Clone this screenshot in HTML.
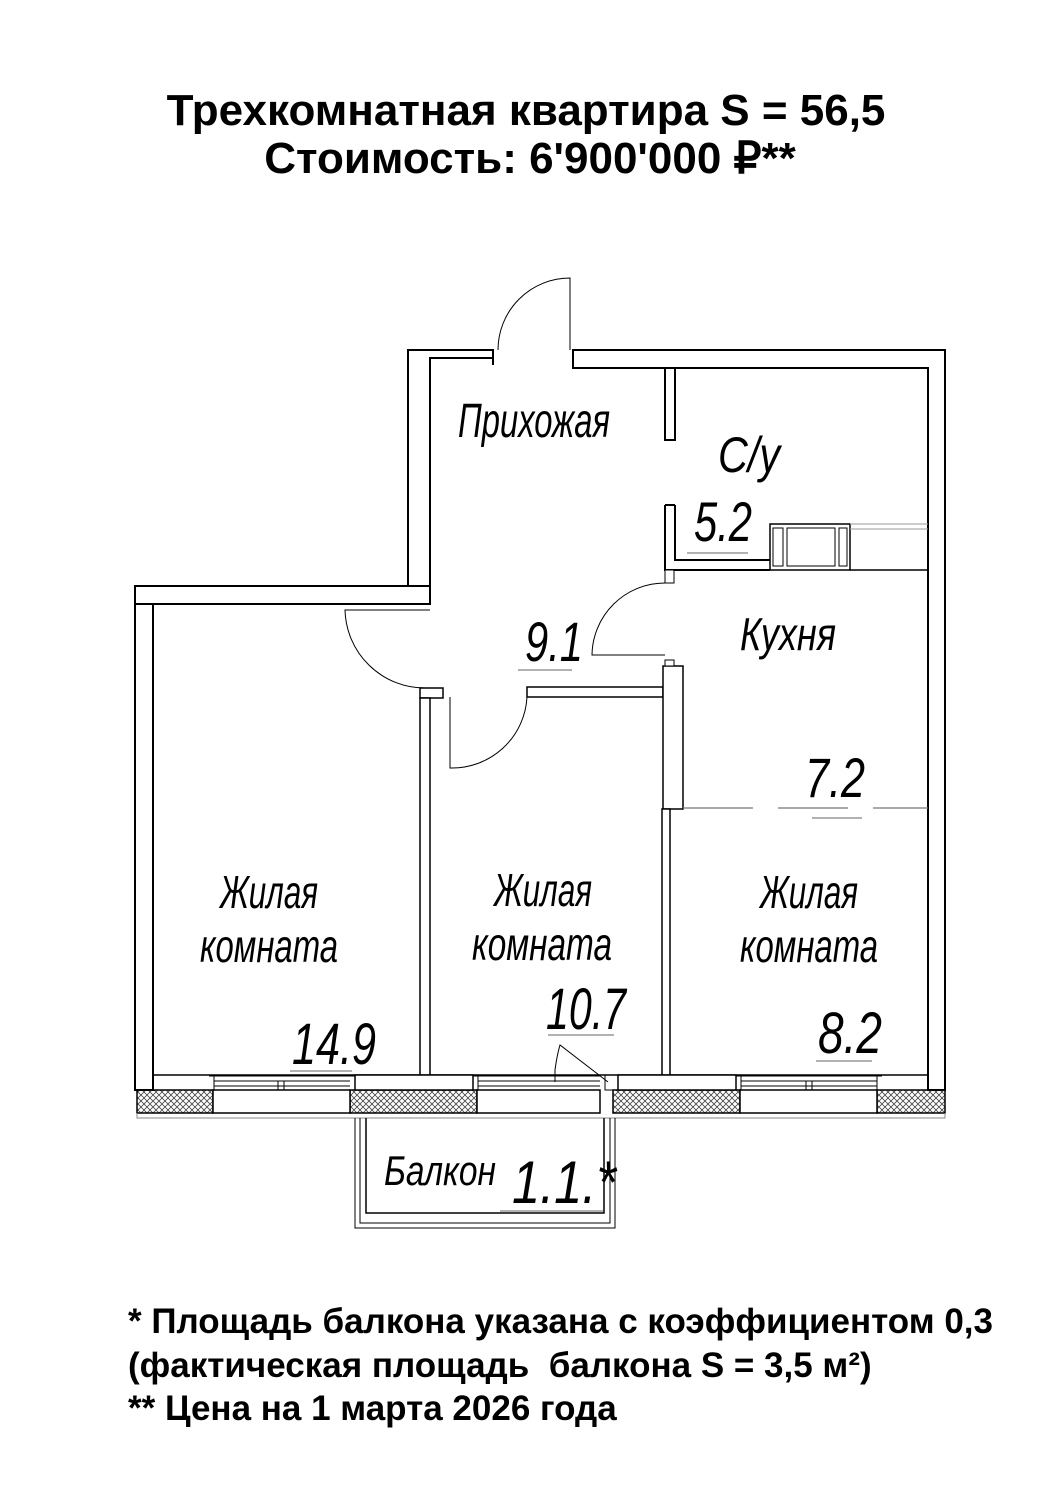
<!DOCTYPE html>
<html><head><meta charset="utf-8"><style>
html,body{margin:0;padding:0;background:#fff;}
body{width:1060px;height:1500px;position:relative;overflow:hidden;font-family:"Liberation Sans",sans-serif;}
.t{position:absolute;left:0;width:1060px;text-align:center;font-weight:bold;font-size:44px;line-height:50px;color:#000;}
.f{position:absolute;left:128px;font-weight:bold;font-size:35px;line-height:40px;color:#000;white-space:nowrap;}
svg{position:absolute;left:0;top:0;}
.lb{font-family:"Liberation Sans",sans-serif;font-style:italic;fill:#000;}
</style></head><body>
<div class="t" style="top:86px;left:-4px;">Трехкомнатная квартира S = 56,5</div>
<div class="t" style="top:134px;left:0px;">Стоимость: 6'900'000 ₽**</div>
<svg width="1060" height="1500" viewBox="0 0 1060 1500">
<defs>
<pattern id="h" width="6" height="6" patternUnits="userSpaceOnUse">
<path d="M0 0L6 6M6 0L0 6" stroke="#444" stroke-width="0.8"/>
</pattern>
</defs>
<g fill="#fff" stroke="#000" stroke-width="2">
<path d="M408 600 V350 H493 V358 H430 V585"/>
<path d="M573 350 H945 V1090 H928 V368 H573 Z"/>
<path d="M493 350 v15 M573 350 v15" />
<rect x="135" y="586" width="295" height="18"/>
<rect x="135" y="604" width="18" height="486"/>
<rect x="665" y="368" width="10" height="72"/>
<path d="M665 505 V570 H770 M675 505 V560 H770" fill="none"/>
<path d="M665 505 H675" fill="none"/>
<rect x="665" y="570" width="9" height="13" stroke-width="1"/>
<rect x="770" y="524" width="80" height="46" stroke-width="1.5"/>
<rect x="773" y="528" width="10" height="38" stroke-width="1"/>
<rect x="787" y="528" width="48" height="38" stroke-width="1"/>
<rect x="839" y="528" width="8" height="38" stroke-width="1"/>
<path d="M850 524 H928 M850 529 H928" stroke="#999" stroke-width="1"/>
<path d="M850 570 H928" stroke-width="1.5"/>
<rect x="420" y="688" width="23" height="10" stroke-width="1.5"/>
<rect x="420" y="698" width="10" height="377" stroke-width="1.5"/>
<rect x="527" y="687" width="136" height="10" stroke-width="1.5"/>
<rect x="663" y="666" width="20" height="143" stroke-width="1.5"/>
<rect x="665" y="660" width="9" height="6" stroke-width="1"/>
<rect x="662" y="809" width="8" height="266" stroke-width="1.5"/>
<path d="M153 1075 H420 M430 1075 H662 M670 1075 H928" stroke-width="1.5" fill="none"/>
</g>
<g fill="none" stroke="#000" stroke-width="1">
<path d="M570 350 V278 A72 72 0 0 0 498 350"/>
<path d="M430 610 H345 A80 80 0 0 0 425 688"/>
<path d="M665 583 A73 73 0 0 0 592 655 H665"/>
<path d="M527 697 A75 75 0 0 1 450 768 V697"/>
<path d="M555 1082 V1070 Q557 1055 560 1045 L608 1082" />
<path d="M605 1075 v15 h8" />
</g>
<path d="M683 808 H928" stroke="#777" stroke-width="1.2" stroke-dasharray="70 25"/>
<g stroke="#000" stroke-width="1.5">
<rect x="137" y="1090" width="76" height="23" fill="url(#h)"/>
<rect x="350" y="1090" width="127" height="23" fill="url(#h)"/>
<rect x="613" y="1090" width="127" height="23" fill="url(#h)"/>
<rect x="877" y="1090" width="68" height="23" fill="url(#h)"/>
<rect x="213" y="1090" width="137" height="23" fill="#fff"/>
<rect x="477" y="1090" width="123" height="23" fill="#fff"/>
<rect x="740" y="1090" width="137" height="23" fill="#fff"/>
<rect x="355" y="1075" width="118" height="15" fill="#fff"/>
<rect x="618" y="1075" width="118" height="15" fill="#fff"/>
</g>
<g stroke="#000" stroke-width="1" fill="none">
<path d="M209 1076 H355 M209 1090 H355 M214 1081 H350 M214 1086 H350 M214 1076 V1090 M278 1081 V1090 M284 1081 V1090"/>
<path d="M473 1076 H600 M478 1081 H600 M478 1086 H600 M478 1076 V1090"/>
<path d="M736 1076 H882 M741 1081 H877 M741 1086 H877 M741 1076 V1090 M877 1076 V1090 M806 1081 V1090 M812 1081 V1090"/>
<path d="M137 1113 V1118 H945 V1113" stroke="#888"/>
</g>
<g fill="none" stroke="#000" stroke-width="1">
<path d="M355 1118 V1228 H615 V1118"/>
<path d="M360 1118 V1223 H610 V1118"/>
<path d="M366 1118 V1213 H604 V1118" stroke-width="1.5"/>
</g>
<g class="lb">
<text x="458" y="437" font-size="48" textLength="152" lengthAdjust="spacingAndGlyphs">Прихожая</text>
<text x="718" y="472" font-size="50" textLength="62" lengthAdjust="spacingAndGlyphs">С/у</text>
<text x="694" y="541" font-size="56" textLength="58" lengthAdjust="spacingAndGlyphs">5.2</text>
<text x="525" y="661" font-size="56" textLength="58" lengthAdjust="spacingAndGlyphs">9.1</text>
<text x="740" y="650" font-size="46" textLength="96" lengthAdjust="spacingAndGlyphs">Кухня</text>
<text x="805" y="797" font-size="56" textLength="60" lengthAdjust="spacingAndGlyphs">7.2</text>
<text x="220" y="908" font-size="46" textLength="98" lengthAdjust="spacingAndGlyphs">Жилая</text>
<text x="200" y="962" font-size="46" textLength="138" lengthAdjust="spacingAndGlyphs">комната</text>
<text x="494" y="906" font-size="46" textLength="98" lengthAdjust="spacingAndGlyphs">Жилая</text>
<text x="472" y="960" font-size="46" textLength="140" lengthAdjust="spacingAndGlyphs">комната</text>
<text x="760" y="908" font-size="46" textLength="98" lengthAdjust="spacingAndGlyphs">Жилая</text>
<text x="740" y="962" font-size="46" textLength="138" lengthAdjust="spacingAndGlyphs">комната</text>
<text x="292" y="1064" font-size="58" textLength="84" lengthAdjust="spacingAndGlyphs">14.9</text>
<text x="546" y="1029" font-size="58" textLength="80" lengthAdjust="spacingAndGlyphs">10.7</text>
<text x="818" y="1053" font-size="58" textLength="64" lengthAdjust="spacingAndGlyphs">8.2</text>
<text x="384" y="1185" font-size="42" textLength="112" lengthAdjust="spacingAndGlyphs">Балкон</text>
<text x="512" y="1203" font-size="60" textLength="104" lengthAdjust="spacingAndGlyphs">1.1.*</text>
</g>
<g stroke="#999" stroke-width="1.5">
<path d="M687 553 H748 M518 670 H572 M812 818 H862 M290 1071 H352 M548 1035 H614 M816 1061 H872 M500 1211 H603"/>
</g>
</svg>
<div class="f" style="top:1302px;">* Площадь балкона указана с коэффициентом 0,3</div>
<div class="f" style="top:1346px;">(фактическая площадь&nbsp; балкона S = 3,5 м²)</div>
<div class="f" style="top:1389px;">** Цена на 1 марта 2026 года</div>
</body></html>
